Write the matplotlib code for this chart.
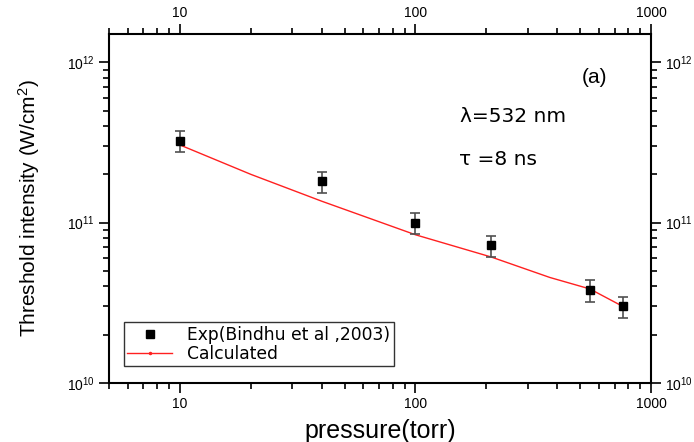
import matplotlib
matplotlib.use("Agg")
import matplotlib.pyplot as plt
import numpy as np
from matplotlib.ticker import LogLocator, LogFormatterSciNotation, FixedLocator, NullFormatter, FixedFormatter
from matplotlib.lines import Line2D

plt.rcParams['font.family'] = ['Liberation Sans', 'DejaVu Sans']
plt.rcParams['mathtext.fontset'] = 'custom'
plt.rcParams['mathtext.rm'] = 'Liberation Sans'
plt.rcParams['mathtext.it'] = 'Liberation Sans'

# Experimental data (Bindhu et al, 2003)
exp_pressure = [10, 40, 100, 210, 550, 760]
exp_threshold = [3.25e11, 1.81e11, 1.0e11, 7.25e10, 3.81e10, 3.0e10]
exp_err_low = [0.50e11, 0.28e11, 0.15e11, 1.15e10, 0.59e10, 0.44e10]
exp_err_high = [0.47e11, 0.25e11, 0.14e11, 1.05e10, 0.56e10, 0.46e10]

# Calculated curve
calc_pressure = [10, 20, 40, 100, 210, 372, 550, 760]
calc_threshold = [3.05e11, 2.0e11, 1.36e11, 8.4e10, 6.1e10, 4.55e10, 3.86e10, 3.0e10]

legend_labels = ['Exp(Bindhu et al ,2003)', 'Calculated']

fig = plt.figure(figsize=(6.94, 4.42), dpi=100)
ax = fig.add_axes([109/694, 1-383/442, (651-109)/694, (383-34)/442])
ax.set_xscale('log')
ax.set_yscale('log')
ax.set_xlim(5, 1000)
ax.set_ylim(1e10, 1.5e12)

ax.plot(calc_pressure, calc_threshold, color='#ff2020', lw=1.0, zorder=2)
ax.errorbar(exp_pressure, exp_threshold, yerr=[exp_err_low, exp_err_high], fmt='s',
            color='black', ms=6, ecolor='#505050', elinewidth=1.2, capsize=3.5,
            capthick=1.2, zorder=3)

for sp in ax.spines.values():
    sp.set_linewidth(1.5)

ax.xaxis.set_major_locator(FixedLocator([10, 100, 1000]))
ax.xaxis.set_major_formatter(FixedFormatter(['10', '100', '1000']))
ax.xaxis.set_minor_locator(LogLocator(base=10, subs=np.arange(2, 10)))
ax.xaxis.set_minor_formatter(NullFormatter())
ax.yaxis.set_major_locator(FixedLocator([1e10, 1e11, 1e12]))
ax.yaxis.set_major_formatter(LogFormatterSciNotation())
ax.yaxis.set_minor_locator(LogLocator(base=10, subs=np.arange(2, 10)))
ax.yaxis.set_minor_formatter(NullFormatter())

ax.tick_params(which='both', direction='out', top=True, right=True,
               labeltop=True, labelright=True, width=1.2)
ax.tick_params(which='major', length=7)
ax.tick_params(which='minor', length=4)
ax.tick_params(axis='x', which='major', labelsize=10, pad=3)
ax.tick_params(axis='y', which='major', labelsize=10, pad=3)

ax.set_xlabel('pressure(torr)', fontsize=18, labelpad=6)
ax.set_ylabel('Threshold intensity (W/cm$^2$)', fontsize=15, labelpad=18)

ax.text(0.895, 0.875, '(a)', transform=ax.transAxes, fontsize=15, ha='center', va='center')
ax.text(0.647, 0.765, 'λ=532 nm', transform=ax.transAxes, fontsize=14.5,
        family='DejaVu Sans', ha='left', va='center')
ax.text(0.645, 0.64, 'τ =8 ns', transform=ax.transAxes, fontsize=14.5,
        family='DejaVu Sans', ha='left', va='center')

handles = [Line2D([], [], ls='none', marker='s', color='black', ms=6),
           Line2D([], [], color='#ff2020', lw=1.0, marker='.', ms=3)]
leg = ax.legend(handles, legend_labels, loc='lower left', bbox_to_anchor=(0.0277, 0.0487),
                borderaxespad=0, prop={'family': 'DejaVu Sans', 'size': 12.3},
                frameon=True, fancybox=False, edgecolor='black',
                borderpad=0.2, handlelength=2.6, handletextpad=0.9, labelspacing=0.05)
leg.get_frame().set_linewidth(1.0)

fig.savefig('out.png', dpi=100)
